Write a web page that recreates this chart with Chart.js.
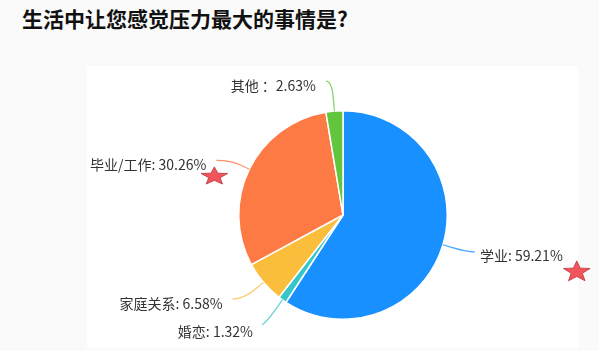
<!DOCTYPE html>
<html>
<head>
<meta charset="utf-8">
<script src="https://cdn.jsdelivr.net/npm/chart.js@4.4.1/dist/chart.umd.min.js"></script>
<style>
  html, body { margin: 0; padding: 0; background: #fafafa; }
  body { width: 599px; height: 351px; position: relative; overflow: hidden; }
  #panel { position: absolute; left: 87px; top: 66px; width: 491px; height: 282px; background: #fff; }
  #title { position: absolute; left: 22px; top: 3px; font: bold 21px "Noto Sans CJK SC", sans-serif; color: #111; }
  #wrap { position: absolute; left: 0; top: 0; width: 599px; height: 351px; }
</style>
</head>
<body>
<div id="panel"></div>
<div id="title">生活中让您感觉压力最大的事情是?</div>
<div id="wrap"><canvas id="chart"></canvas></div>
<script>
/* 压力来源 — 饼图 */
var categories = ['学业', '婚恋', '家庭关系', '毕业/工作', '其他'];
var percents   = [59.21, 1.32, 6.58, 30.26, 2.63];
var colors     = ['#1890ff', '#36c6c9', '#fbbd3c', '#fe7a45', '#62c53d'];
var labelTexts = ['学业: 59.21%', '婚恋: 1.32%', '家庭关系: 6.58%', '毕业/工作: 30.26%', '其他 ：2.63%'];

// 引导线: 径向长度, 水平长度, 文字间距, 文字垂直偏移
var leaders = [
  { len1: 25, len2: 8,  gap: 5,  dy: 4 },
  { len1: 30, len2: 3,  gap: 9,  dy: 7 },
  { len1: 26, len2: 11, gap: 10, dy: 5 },
  { len1: 20, len2: 15, gap: 10, dy: 4 },
  { len1: 30, len2: 6,  gap: 10, dy: 4 }
];
// 红色星标 (相对文字末端)
var stars = { 0: { dx: 14, dy: 16, sx: 14, sy: 11 }, 3: { dx: 8, dy: 12, sx: 14, sy: 9.5 } };

function drawStar(ctx, cx, cy, sx, sy) {
  ctx.save();
  ctx.translate(cx, cy);
  ctx.scale(sx / 10, sy / 10);
  ctx.beginPath();
  for (var i = 0; i < 10; i++) {
    var r = i % 2 === 0 ? 10 : 4.2;
    var a = -Math.PI / 2 + i * Math.PI / 5;
    var px = r * Math.cos(a), py = r * Math.sin(a);
    if (i === 0) ctx.moveTo(px, py); else ctx.lineTo(px, py);
  }
  ctx.closePath();
  ctx.restore();
  ctx.fillStyle = '#f2545b';
  ctx.fill();
  ctx.lineWidth = 0.8;
  ctx.strokeStyle = '#b8353b';
  ctx.stroke();
}

var labelPlugin = {
  id: 'pieLabels',
  afterDatasetsDraw: function(chart) {
    var ctx = chart.ctx;
    var arcs = chart.getDatasetMeta(0).data;
    ctx.save();
    ctx.font = '14px "Noto Sans CJK SC", sans-serif';
    ctx.textBaseline = 'middle';
    arcs.forEach(function(arc, i) {
      var mid = (arc.startAngle + arc.endAngle) / 2;
      var cos = Math.cos(mid), sin = Math.sin(mid);
      var r = arc.outerRadius;
      var x0 = arc.x + cos * r, y0 = arc.y + sin * r;
      var L = leaders[i];
      var x1 = arc.x + cos * (r + L.len1), y1 = arc.y + sin * (r + L.len1);
      var side = cos >= 0 ? 1 : -1;
      var x2 = x1 + side * L.len2, y2 = y1;
      ctx.beginPath();
      ctx.moveTo(x0, y0);
      var mx = x0 + (x1 - x0) * 0.4, my = y0 + (y1 - y0) * 0.4;
      ctx.lineTo(mx, my);
      ctx.quadraticCurveTo(x1, y1, x2, y2);
      ctx.strokeStyle = colors[i];
      ctx.globalAlpha = 0.8;
      ctx.lineWidth = 1.2;
      ctx.stroke();
      ctx.globalAlpha = 1;
      ctx.fillStyle = '#333';
      ctx.textAlign = side > 0 ? 'left' : 'right';
      var tx = x2 + side * L.gap, ty = y2 + L.dy;
      ctx.fillText(labelTexts[i], tx, ty);
      if (stars[i]) {
        var w = ctx.measureText(labelTexts[i]).width;
        var endX = side > 0 ? tx + w : tx;
        var s = stars[i];
        drawStar(ctx, endX + s.dx, ty + s.dy, s.sx, s.sy);
      }
    });
    ctx.restore();
  }
};

new Chart(document.getElementById('chart'), {
  type: 'pie',
  data: {
    labels: categories,
    datasets: [{
      data: percents,
      backgroundColor: colors,
      borderColor: '#ffffff',
      borderWidth: 1.5,
      hoverOffset: 0
    }]
  },
  options: {
    responsive: true,
    maintainAspectRatio: false,
    animation: false,
    layout: { padding: { left: 238, right: 151, top: 110, bottom: 31 } },
    plugins: { legend: { display: false }, tooltip: { enabled: false } }
  },
  plugins: [labelPlugin]
});
</script>
</body>
</html>
